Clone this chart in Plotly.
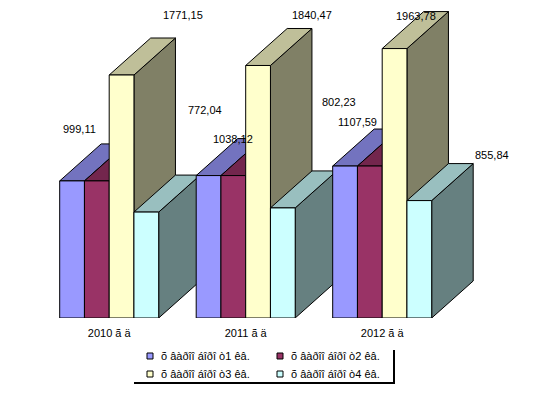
import plotly.graph_objects as go

categories = ["2010 ã ä", "2011 ã ä", "2012 ã ä"]
series_names = ["õ âàðîî áîðî ò1 êâ.", "õ âàðîî áîðî ò2 êâ.", "õ âàðîî áîðî ò3 êâ.", "õ âàðîî áîðî ò4 êâ."]
q1 = [999.11, 1038.12, 1107.59]
q2 = [999.11, 1038.12, 1107.59]
q3 = [1771.15, 1840.47, 1963.78]
q4 = [772.04, 802.23, 855.84]
series = [q1, q2, q3, q4]
front = ["#9999FF", "#993366", "#FFFFCC", "#CCFFFF"]
top = ["#7373BF", "#73264D", "#BFBF99", "#99BFBF"]
side = ["#4D4D80", "#4D1A33", "#808066", "#668080"]

PAGE_M = 8         # the page's own margin around the figure
W, H = 533 - PAGE_M, 395 - PAGE_M
BASE = 318 - PAGE_M
PX_X = 136.5       # pixels per category
PX_Y = 0.1372      # pixels per value unit
X0 = 109.2 - PAGE_M  # pixel of first category centre
BAR = 24.75 / PX_X
DX = 41.5 / PX_X
DY = 37 / PX_Y

# pixel offsets of the value labels, relative to the bar's front top-left corner
label_off = {
    (0, 0): (20, -52), (0, 2): (74, -60), (0, 3): (71, -102),
    (1, 0): (37, -37), (1, 2): (66, -50), (1, 3): (69, -106),
    (2, 0): (25, -44), (2, 2): (34, -33), (2, 3): (85, -46),
}

fig = go.Figure()
def poly(xs, ys, color):
    fig.add_trace(go.Scatter(
        x=xs + xs[:1], y=ys + ys[:1], mode="lines", fill="toself", fillcolor=color,
        line=dict(color="black", width=1), showlegend=False, hoverinfo="skip"))

annots = []
for c in range(len(categories)):
    for s in range(4):
        v = series[s][c]
        x0 = c + (s - 2) * BAR
        x1 = x0 + BAR
        poly([x1, x1 + DX, x1 + DX, x1], [0, DY, v + DY, v], side[s])
        poly([x0, x1, x1 + DX, x0 + DX], [v, v, v + DY, v + DY], top[s])
        poly([x0, x1, x1, x0], [0, 0, v, v], front[s])
        if (c, s) in label_off:
            ox, oy = label_off[(c, s)]
            annots.append(dict(
                x=x0, y=v, xref="x", yref="y", text=f"{v:.2f}".replace(".", ","),
                showarrow=False, xshift=ox, yshift=-oy,
                font=dict(family="Liberation Sans", size=11, color="black")))

def px(x): return (x - PAGE_M) / W
def py(y): return (BASE - (y - PAGE_M)) / BASE

shapes = []
legend_pos = [(147, 356), (277, 356), (147, 374), (277, 374)]
for (lx, ly), name, col in zip(legend_pos, series_names, front):
    shapes.append(dict(type="rect", xref="paper", yref="paper",
                       x0=px(lx), x1=px(lx + 6), y0=py(ly - 3), y1=py(ly + 3),
                       fillcolor=col, line=dict(color="black", width=1)))
    annots.append(dict(x=px(lx + 12), y=py(ly), xref="paper", yref="paper", text=name,
                       showarrow=False, xanchor="left", yanchor="middle",
                       font=dict(family="Liberation Sans", size=11, color="black")))
shapes.append(dict(type="line", xref="paper", yref="paper", x0=px(134), x1=px(395),
                   y0=py(383), y1=py(383), line=dict(color="black", width=2)))
shapes.append(dict(type="line", xref="paper", yref="paper", x0=px(394), x1=px(394),
                   y0=py(350), y1=py(384), line=dict(color="black", width=2)))

fig.update_layout(
    width=W, height=H, margin=dict(l=0, r=0, t=0, b=H - BASE),
    paper_bgcolor="white", plot_bgcolor="white", showlegend=False, hovermode=False,
    xaxis=dict(range=[-X0 / PX_X, (W - X0) / PX_X], tickvals=[0, 1, 2], ticktext=categories,
               showgrid=False, zeroline=False, showline=False, ticks="", ticklabelstandoff=7,
               tickfont=dict(family="Liberation Sans", size=11, color="black")),
    yaxis=dict(range=[0, BASE / PX_Y], visible=False),
    annotations=annots, shapes=shapes,
)
fig.write_html("out.html", config=dict(displayModeBar=False))
